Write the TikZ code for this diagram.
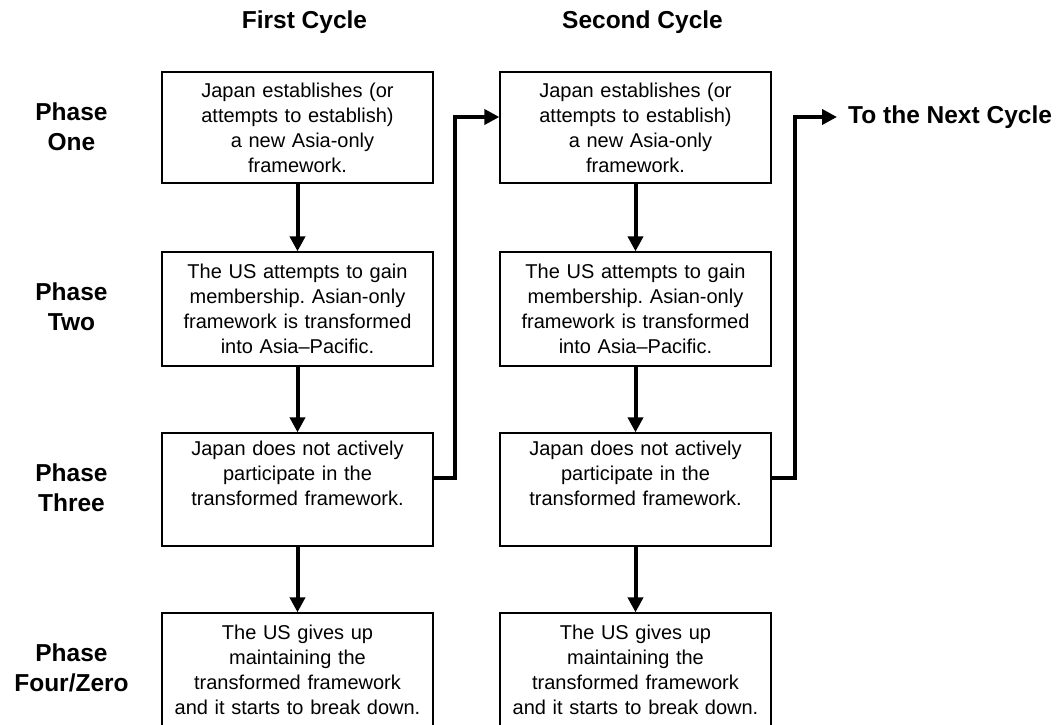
\documentclass[tikz,border=0pt]{standalone}
\usepackage{fontspec}
\setmainfont{Liberation Sans}
\usetikzlibrary{arrows.meta,calc}
\frenchspacing
\begin{document}
\begin{tikzpicture}[x=1pt,y=-1pt,
  stepbox/.style={draw=black,line width=1.3pt,rectangle,minimum width=271pt,text width=250pt,align=center,inner sep=0pt,font=\fontsize{20}{25}\selectfont},
  head/.style={font=\fontsize{24.5}{30}\selectfont\bfseries,align=center,inner sep=0pt},
  conn/.style={line width=4pt,-{Triangle[length=15pt,width=15pt]}}]
\useasboundingbox (0,0) rectangle (1060,725);
\clip (0,0) rectangle (1060,725);
% headings
\node[head] (h1) at (304.5,22) {First Cycle};
\node[head] (h2) at (642.5,22) {Second Cycle};
% phase labels
\node[head] (p1) at (71.5,127) {Phase\\One};
\node[head] (p2) at (71.5,307) {Phase\\Two};
\node[head] (p3) at (71.5,488) {Phase\\Three};
\node[head] (p4) at (71.5,668) {Phase\\Four/Zero};
% first cycle
\node[stepbox,minimum height=111pt] (b11) at (297.5,127.5) {Japan establishes (or\\attempts to establish)\\\hspace*{10pt}a new Asia-only\\framework.};
\node[stepbox,minimum height=114pt] (b12) at (297.5,309) {The US attempts to gain\\membership. Asian-only\\framework is transformed\\into Asia--Pacific.};
\node[stepbox,minimum height=113pt] (b13) at (297.5,489.5) {Japan does not actively\\participate in the\\transformed framework.\\\strut};
\node[stepbox,minimum height=113pt] (b14) at (297.5,669.5) {The US gives up\\maintaining the\\transformed framework\\and it starts to break down.};
% second cycle
\node[stepbox,minimum height=111pt] (b21) at (635.5,127.5) {Japan establishes (or\\attempts to establish)\\\hspace*{10pt}a new Asia-only\\framework.};
\node[stepbox,minimum height=114pt] (b22) at (635.5,309) {The US attempts to gain\\membership. Asian-only\\framework is transformed\\into Asia--Pacific.};
\node[stepbox,minimum height=113pt] (b23) at (635.5,489.5) {Japan does not actively\\participate in the\\transformed framework.\\\strut};
\node[stepbox,minimum height=113pt] (b24) at (635.5,669.5) {The US gives up\\maintaining the\\transformed framework\\and it starts to break down.};
% next
\node[head,anchor=west] (nx) at (848,117) {To the Next Cycle};
% vertical arrows
\draw[conn] (b11) -- (b12);
\draw[conn] (b12) -- (b13);
\draw[conn] (b13) -- (b14);
\draw[conn] (b21) -- (b22);
\draw[conn] (b22) -- (b23);
\draw[conn] (b23) -- (b24);
% cycle connectors
\coordinate (k1) at (455,117);
\coordinate (k2) at (795,117);
\coordinate (t2) at (837,117);
\draw[conn] ([yshift=11.5pt]b13.east) -| (k1) -- (b21.west |- k1);
\draw[conn] ([yshift=11.5pt]b23.east) -| (k2) -- (t2);
\end{tikzpicture}
\end{document}
